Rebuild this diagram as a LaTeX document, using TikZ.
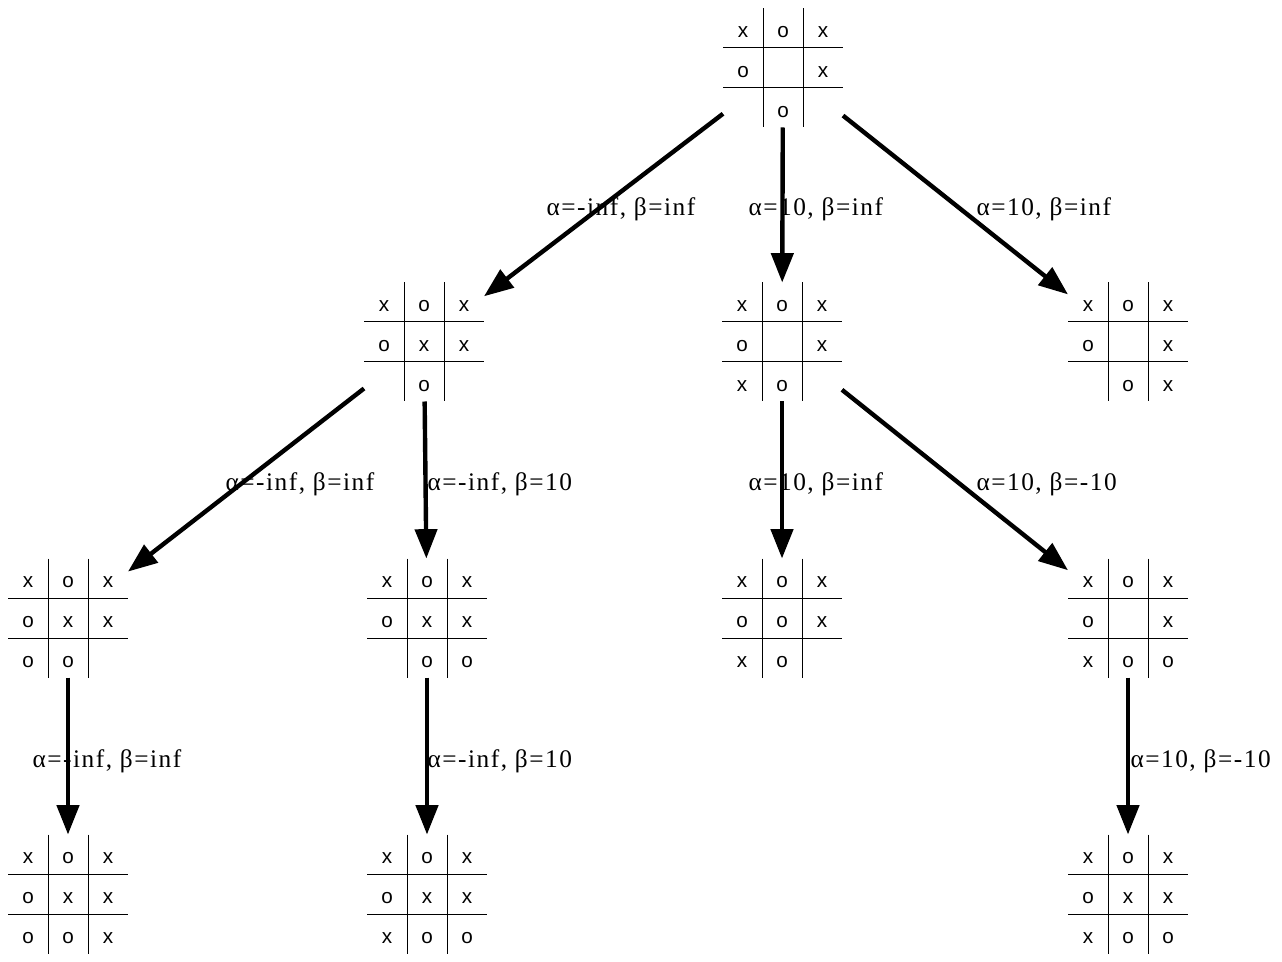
\documentclass[tikz,border=0pt]{standalone}
\usepackage{fontspec}
\setmainfont{Liberation Serif}
\newfontfamily\boardfont{Liberation Sans}
\newfontfamily\edgefont[LetterSpace=6]{Liberation Serif}
\usetikzlibrary{arrows.meta}

\tikzset{every picture/.style={line width=0.75pt},
  board/.style={rectangle, minimum width=90pt, minimum height=89.25pt, inner sep=0pt, outer sep=0pt},
  boardline/.style={line width=0.75pt},
  cellmark/.style={inner sep=0pt, font=\boardfont\fontsize{15.5}{16}\selectfont},
  move/.style={line width=3.3pt, -{Triangle[length=22pt,width=16.5pt]}},
  bounds/.style={anchor=base west, inner sep=0pt, font=\edgefont\fontsize{19}{22}\selectfont}
}

% name, centre x, centre y, the nine cells row by row
\newcommand{\tttboard}[4]{%
  \node[board] (#1) at (#2,#3) {};
  \draw[boardline] (#2-20,#3-59.5) -- (#2-20,#3+59.5);
  \draw[boardline] (#2+20,#3-59.5) -- (#2+20,#3+59.5);
  \draw[boardline] (#2-60,#3-20) -- (#2+60,#3-20);
  \draw[boardline] (#2-60,#3+20) -- (#2+60,#3+20);
  \foreach \m [count=\k from 0] in {#4} {
    \pgfmathtruncatemacro\brow{div(\k,3)}
    \pgfmathtruncatemacro\bcol{mod(\k,3)}
    \node[cellmark] (#1-\k) at (#2-40+40*\bcol,#3-36+40*\brow) {\m};
  }%
}

\begin{document}
\begin{tikzpicture}[x=0.75pt,y=0.75pt,yscale=-1,xscale=1]
    \useasboundingbox (0,0) rectangle (1282,962);

    %Boards
    \tttboard{root}{783}{68}{x,o,x,o,{},x,{},o,{}}
    \tttboard{a}{424}{342}{x,o,x,o,x,x,{},o,{}}
    \tttboard{b}{782}{342}{x,o,x,o,{},x,x,o,{}}
    \tttboard{c}{1128}{342}{x,o,x,o,{},x,{},o,x}
    \tttboard{aa}{68}{618}{x,o,x,o,x,x,o,o,{}}
    \tttboard{ab}{427}{618}{x,o,x,o,x,x,{},o,o}
    \tttboard{ba}{782}{618}{x,o,x,o,o,x,x,o,{}}
    \tttboard{bb}{1128}{618}{x,o,x,o,{},x,x,o,o}
    \tttboard{aaa}{68}{894}{x,o,x,o,x,x,o,o,x}
    \tttboard{aba}{427}{894}{x,o,x,o,x,x,x,o,o}
    \tttboard{bba}{1128}{894}{x,o,x,o,x,x,x,o,o}

    %Moves
    \draw[move] (root) -- (a);
    \draw[move] (root) -- (b);
    \draw[move] (root) -- (c);
    \draw[move] (a) -- (aa);
    \draw[move] (a) -- (ab);
    \draw[move] (b) -- (ba);
    \draw[move] (b) -- (bb);
    \draw[move] (aa) -- (aaa);
    \draw[move] (ab) -- (aba);
    \draw[move] (bb) -- (bba);

    % Text Node
    \node[bounds] (l-a) at (546,216) {α=-inf, β=inf};
    % Text Node
    \node[bounds] (l-b) at (748,216) {α=10, β=inf};
    % Text Node
    \node[bounds] (l-c) at (976,216) {α=10, β=inf};
    % Text Node
    \node[bounds] (l-aa) at (225,491) {α=-inf, β=inf};
    % Text Node
    \node[bounds] (l-ab) at (427,491) {α=-inf, β=10};
    % Text Node
    \node[bounds] (l-ba) at (748,491) {α=10, β=inf};
    % Text Node
    \node[bounds] (l-bb) at (976,491) {α=10, β=-10};
    % Text Node
    \node[bounds] (l-aaa) at (32,767) {α=-inf, β=inf};
    % Text Node
    \node[bounds] (l-aba) at (427,767) {α=-inf, β=10};
    % Text Node
    \node[bounds] (l-bba) at (1130,767) {α=10, β=-10};

\end{tikzpicture}
\end{document}
